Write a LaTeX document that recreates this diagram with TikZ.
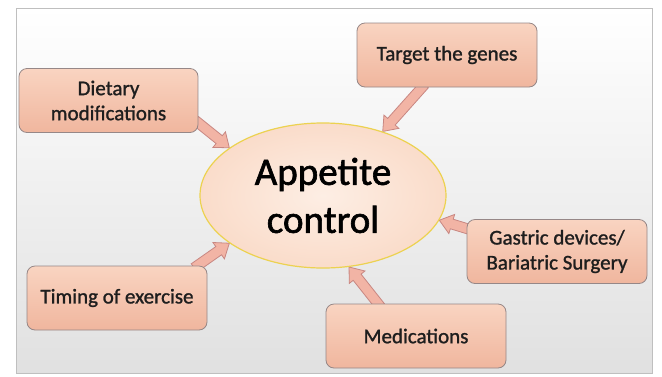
\documentclass[tikz,border=0pt]{standalone}
\usepackage{fontspec}
\setmainfont{Carlito}
\newfontfamily\boxfont[FakeBold=1.2]{Carlito}
\newfontfamily\hubfont[FakeBold=1.6]{Carlito}
\usetikzlibrary{calc,shapes.geometric,backgrounds}
\definecolor{boxtop}{RGB}{249,212,193}
\definecolor{boxbot}{RGB}{240,182,158}
\definecolor{boxline}{RGB}{150,135,135}
\definecolor{ovalin}{RGB}{253,238,228}
\definecolor{ovalout}{RGB}{250,220,202}
\definecolor{ovalline}{RGB}{236,210,80}
\definecolor{arrfill}{RGB}{242,180,165}
\definecolor{arrline}{RGB}{200,135,130}
\definecolor{txt}{RGB}{30,30,30}
\begin{document}
\begin{tikzpicture}[x=1pt,y=1pt,
  topicbox/.style={draw=boxline, line width=0.8pt, rounded corners=8pt,
    top color=boxtop, bottom color=boxbot, minimum width=180pt,
    minimum height=64pt, align=center, text=txt,
    font=\boxfont\fontsize{21}{25}\selectfont},
  hub/.style={ellipse, draw=ovalline, line width=1.2pt, inner sep=0pt,
    inner color=ovalin, outer color=ovalout, minimum width=246pt,
    minimum height=145pt, align=center, font=\hubfont\fontsize{39}{48}\selectfont},
  blockarrow/.style={draw=arrline, fill=arrfill, line width=0.8pt}]
\useasboundingbox (0,0) rectangle (662,-376);
\begin{pgfonlayer}{background}
  \fill[white] (0,0) rectangle (662,-376);
  \shade[top color=white, middle color=white, bottom color=black!12,
    draw=black!25, line width=0.6pt] (16,-8) rectangle (652,-373);
\end{pgfonlayer}
% centre and the five topics
\node[hub] (app) at (323,-195.5) {Appetite\\control};
\node[topicbox, minimum width=179pt] (diet) at (108.5,-100.5) {Dietary\\modifications};
\node[topicbox] (genes) at (447,-55) {Target the genes};
\node[topicbox] (gastric) at (557,-251.5) {Gastric devices/\\Bariatric Surgery};
\node[topicbox] (timing) at (117,-298) {Timing of exercise};
\node[topicbox] (meds) at (416,-336) {Medications};
% tails of the arrows
\coordinate (dietout) at ([yshift=10pt]diet.south east);
\coordinate (genesout) at ([xshift=-25pt]genes.south);
\coordinate (gastricout) at ([yshift=23pt]gastric.west);
\coordinate (timingout) at ([xshift=-10pt]timing.north east);
\coordinate (medsout) at ([xshift=-38pt]meds.north);
\begin{pgfonlayer}{background}
  \foreach \src/\ang in {dietout/153, genesout/47, gastricout/-12, timingout/-153, medsout/-70}
    \path[blockarrow] let \p1=(\src), \p2=(app.\ang),
      \n1={atan2(\y2-\y1,\x2-\x1)}, \n2={veclen(\x2-\x1,\y2-\y1)} in
      [shift={(\p1)}, rotate=\n1] (-4,-5) -- ({\n2-13pt},-5) -- ({\n2-13pt},-10)
      -- (\n2,0) -- ({\n2-13pt},10) -- ({\n2-13pt},5) -- (-4,5) -- cycle;
\end{pgfonlayer}
\end{tikzpicture}
\end{document}
